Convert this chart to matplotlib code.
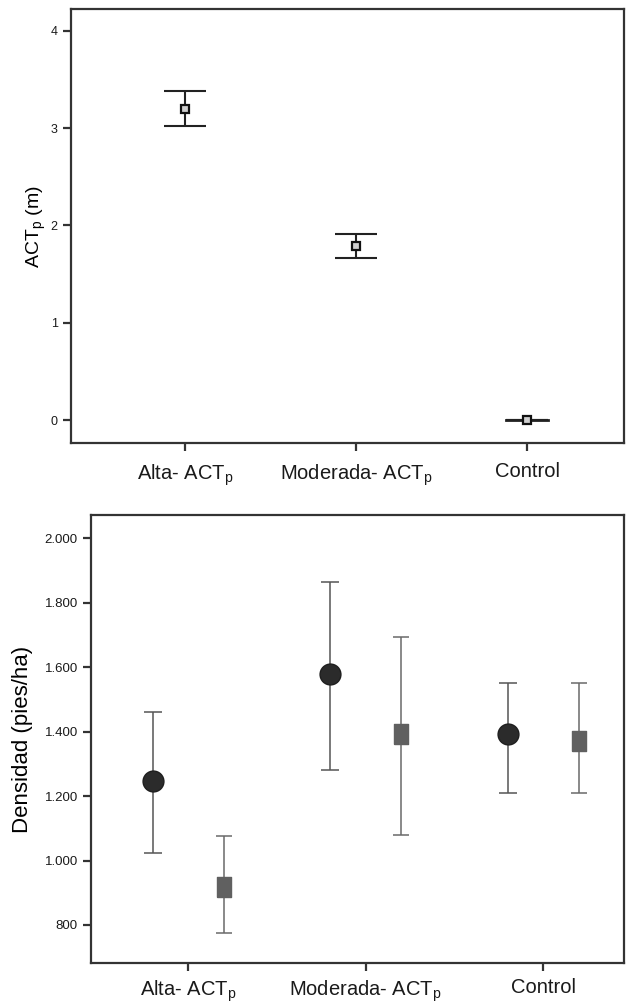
import matplotlib
matplotlib.use("Agg")
import matplotlib.pyplot as plt
from matplotlib.ticker import FuncFormatter

plt.rcParams['font.family'] = ['Liberation Sans', 'DejaVu Sans']
plt.rcParams['mathtext.default'] = 'regular'

# datos
grupos = ["Alta- ACT$_p$", "Moderada- ACT$_p$", "Control"]
pos = [1, 2, 3]

act_media = [3.20, 1.79, 0.0]
act_sup = [3.385, 1.91, 0.0]
act_inf = [3.02, 1.665, 0.0]

dens_circ = [1247, 1578, 1392]
dens_circ_sup = [1461, 1863, 1552]
dens_circ_inf = [1024, 1281, 1209]

dens_cuad = [917, 1392, 1372]
dens_cuad_sup = [1076, 1692, 1552]
dens_cuad_inf = [774, 1080, 1209]

W, H = 626, 1005
fig = plt.figure(figsize=(W / 100, H / 100), dpi=100)

def caja(ax):
    for s in ax.spines.values():
        s.set_color('#333333')
        s.set_linewidth(1.6)
    ax.tick_params(axis='both', colors='#333333', labelcolor='#1a1a1a', width=1.6, length=6)

# panel superior
ax1 = fig.add_axes([71 / W, 1 - 443 / H, (624 - 71) / W, (443 - 9.5) / H])
err1 = [[m - i for m, i in zip(act_media, act_inf)], [s - m for m, s in zip(act_media, act_sup)]]
ax1.errorbar(pos, act_media, yerr=err1, fmt='none', ecolor='#222222', elinewidth=1.5,
             capsize=15, capthick=1.5)
ax1.plot([3 - 0.125, 3 + 0.125], [act_media[2], act_media[2]], color='#222222', lw=2)
ax1.plot(pos, act_media, ls='none', marker='s', ms=6, mfc='#cfcfcf', mec='#111111', mew=1.6)
ax1.set_xlim(0.333, 3.567)
ax1.set_ylim(-0.236, 4.22)
ax1.set_yticks([0, 1, 2, 3, 4])
ax1.set_xticks(pos)
ax1.set_xticklabels(grupos, fontsize=14.5)
ax1.tick_params(axis='y', labelsize=9)
ax1.tick_params(axis='x', pad=8)
ax1.set_ylabel("ACT$_p$ (m)", fontsize=14)
ax1.yaxis.set_label_coords(-0.041, 0.5)
caja(ax1)

# panel inferior
ax2 = fig.add_axes([91 / W, 1 - 963 / H, (624 - 91) / W, (963 - 515) / H])
d = 0.2
xc = [p - d for p in pos]
xs = [p + d for p in pos]
err_c = [[m - i for m, i in zip(dens_circ, dens_circ_inf)], [s - m for m, s in zip(dens_circ, dens_circ_sup)]]
err_s = [[m - i for m, i in zip(dens_cuad, dens_cuad_inf)], [s - m for m, s in zip(dens_cuad, dens_cuad_sup)]]
ax2.errorbar(xc, dens_circ, yerr=err_c, fmt='none', ecolor='#555555', elinewidth=1.1,
             capsize=6.5, capthick=1.1)
ax2.errorbar(xs, dens_cuad, yerr=err_s, fmt='none', ecolor='#6a6a6a', elinewidth=1.1,
             capsize=5.5, capthick=1.1)
ax2.plot(xc, dens_circ, ls='none', marker='o', ms=15, mfc='#2b2b2b', mec='#1e1e1e', zorder=3)
rect = [(-0.72, -1), (0.72, -1), (0.72, 1), (-0.72, 1), (-0.72, -1)]
ax2.plot(xs, dens_cuad, ls='none', marker=rect, ms=14, mfc='#606060', mec='#606060', zorder=3)
ax2.set_xlim(0.4535, 3.456)
ax2.set_ylim(682, 2072)
ax2.set_yticks([800, 1000, 1200, 1400, 1600, 1800, 2000])
ax2.yaxis.set_major_formatter(FuncFormatter(lambda v, p: f"{v:,.0f}".replace(",", ".")))
ax2.set_xticks(pos)
ax2.set_xticklabels(grupos, fontsize=14.5)
ax2.tick_params(axis='y', labelsize=9.5)
ax2.tick_params(axis='x', pad=5)
ax2.set_ylabel("Densidad (pies/ha)", fontsize=16)
ax2.yaxis.set_label_coords(-0.109, 0.5)
caja(ax2)

fig.savefig("out.png", dpi=100)
